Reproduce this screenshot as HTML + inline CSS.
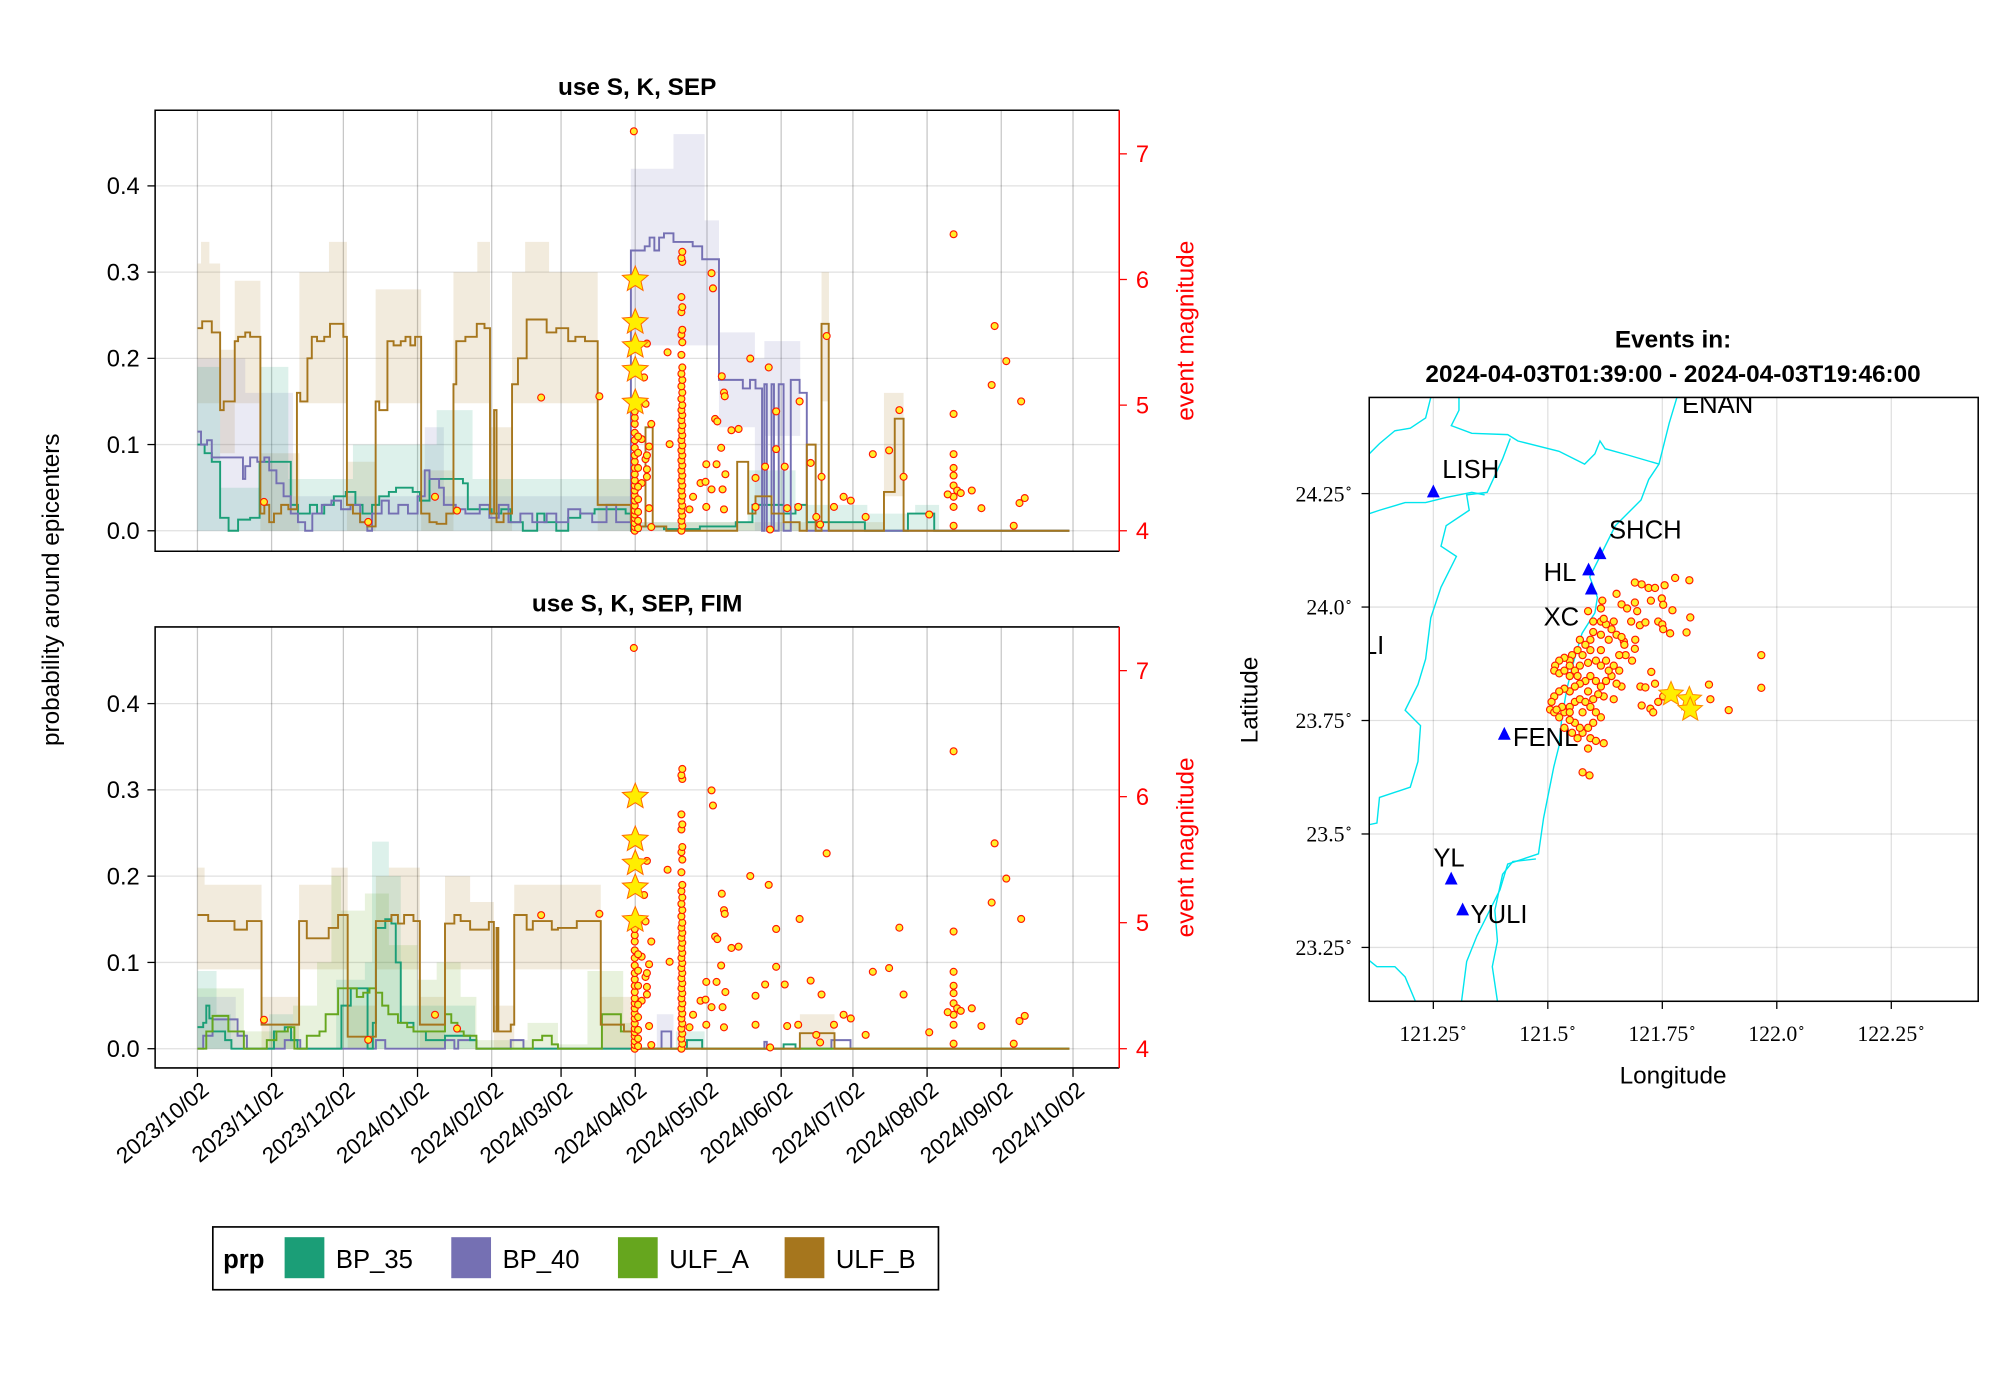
<!DOCTYPE html>
<html><head><meta charset="utf-8">
<style>
html,body{margin:0;padding:0;background:#fff;}
svg{display:block;font-family:"Liberation Sans",sans-serif;}
</style></head>
<body>
<svg id="fig" width="2000" height="1400" viewBox="0 0 1560 1092" xmlns="http://www.w3.org/2000/svg"></svg>
<script>
// ---------- DATA ----------
const monthTicks = ["2023/10/02","2023/11/02","2023/12/02","2024/01/02","2024/02/02","2024/03/02","2024/04/02","2024/05/02","2024/06/02","2024/07/02","2024/08/02","2024/09/02","2024/10/02"];
const monthDays = [0,31,61,92,123,152,183,213,244,274,305,336,366];
const yTicks = [0.0,0.1,0.2,0.3,0.4];
const magTicks = [4,5,6,7];

// top panel lines [day, value]
const topULFB = [[0,0.235],[2,0.243],[6,0.23],[9.5,0.14],[11,0.15],[15.6,0.22],[17,0.225],[20,0.23],[22,0.225],[26.3,0.02],[28,0.03],[30,0.01],[32,0.02],[35,0.03],[38,0.025],[41.6,0.16],[43,0.15],[46,0.2],[47.8,0.225],[50,0.22],[53,0.225],[55.4,0.24],[58,0.24],[61,0.225],[62.5,0.03],[65,0.02],[68,0.01],[71,0.005],[74.5,0.15],[76,0.14],[79.4,0.22],[82,0.215],[85,0.22],[87,0.225],[89,0.215],[91,0.225],[93.5,0.02],[97,0.01],[100,0.008],[104,0.02],[107,0.17],[108.2,0.22],[112,0.225],[116.8,0.24],[120,0.235],[122.3,0.02],[124,0.14],[125,0.01],[128,0.02],[131.5,0.17],[134,0.2],[137.6,0.245],[146,0.23],[150,0.235],[155,0.22],[158,0.225],[162,0.22],[167.3,0.03],[181.2,0.01],[185,0.005],[187.3,0.12],[190.3,0.005],[196,0.0],[225.6,0.08],[230.2,0.02],[233.3,0.04],[240,0.02],[245,0.01],[251.7,0.0],[254.7,0.1],[258.4,0.0],[260.9,0.24],[263.9,0.0],[287,0.045],[291.5,0.13],[295.2,0.0],[364.5,0.0]];
const topBP40 = [[0,0.115],[1.5,0.1],[4,0.105],[6,0.085],[17,0.085],[19,0.06],[20,0.075],[22,0.085],[25,0.08],[28,0.085],[30,0.07],[33,0.055],[36,0.04],[39,0.02],[42,0.01],[45,0.0],[48,0.02],[52,0.03],[56,0.035],[60,0.025],[64,0.03],[68,0.01],[71,0.0],[73,0.02],[77,0.035],[80,0.02],[84,0.03],[88,0.02],[92,0.04],[95,0.07],[97,0.06],[101,0.05],[103,0.03],[108,0.025],[112,0.02],[118,0.03],[122,0.015],[126,0.03],[130,0.01],[135,0.02],[140,0.01],[146,0.02],[150,0.01],[155,0.025],[160,0.02],[165,0.01],[171,0.03],[175,0.01],[181.2,0.325],[187,0.33],[189,0.34],[191,0.325],[193,0.34],[195,0.345],[199,0.335],[207,0.33],[211,0.315],[218,0.175],[224,0.175],[228,0.165],[231,0.175],[233.3,0.165],[236,0.0],[237,0.17],[238,0.0],[240,0.17],[241,0.0],[243,0.17],[245,0.0],[248,0.175],[251.7,0.16],[254.7,0.0],[364.5,0.0]];
const topBP35 = [[0,0.1],[3,0.09],[6,0.08],[9.5,0.015],[13,0.0],[17,0.013],[22,0.015],[26,0.08],[37,0.08],[39,0.03],[42,0.02],[47,0.03],[50,0.02],[53,0.03],[57,0.04],[62,0.045],[66,0.03],[69,0.02],[73,0.03],[76,0.04],[80,0.045],[83,0.05],[90,0.045],[93,0.035],[97,0.06],[111,0.055],[113,0.025],[123,0.02],[127,0.025],[131,0.01],[136,0.0],[142,0.02],[145,0.01],[150,0.0],[155,0.015],[160,0.02],[166,0.025],[179,0.02],[181.2,0.0],[185,0.005],[195,0.002],[210,0.005],[225,0.01],[232,0.03],[245,0.02],[250,0.03],[254.7,0.01],[279,0.0],[297,0.02],[308,0.0],[364.5,0.0]];
// top bands [day, lo, hi]
const topBandULFB = [[0,0.148,0.31],[1.5,0.148,0.335],[5,0.148,0.31],[9.5,0.09,0.21],[15.6,0.148,0.29],[26.3,0,0.09],[42.6,0.148,0.3],[55,0.148,0.335],[62.5,0,0.08],[74.5,0.148,0.28],[93.5,0,0.07],[107,0.148,0.3],[117,0.148,0.335],[122.3,0,0.12],[131.5,0.148,0.3],[137,0.148,0.335],[147,0.148,0.3],[167.3,0,0.06],[181.2,0,0.01],[260.9,0.15,0.3],[264,0,0.01],[287,0.04,0.16],[295.2,0,0],[364.5,0,0]];
const topBandBP40 = [[0,0,0.2],[20,0,0.16],[40,0,0.04],[95,0,0.12],[103,0,0.04],[181.2,0.215,0.42],[199,0.215,0.46],[212,0.215,0.36],[218,0.12,0.23],[233,0,0.2],[237,0.11,0.22],[252,0,0],[364.5,0,0]];
const topBandBP35 = [[0,0,0.19],[9.5,0,0.05],[26,0,0.19],[38,0,0.06],[65,0,0.1],[100,0,0.14],[115,0,0.06],[181,0,0.01],[230,0,0.07],[250,0,0.03],[280,0,0.02],[300,0,0.03],[310,0,0],[364.5,0,0]];

// bottom panel lines
const botULFB = [[0,0.155],[4.5,0.148],[15.5,0.138],[20.7,0.148],[26.8,0.028],[42.5,0.148],[45.7,0.128],[54.9,0.14],[58.8,0.155],[62.8,0.014],[74.6,0.148],[81.1,0.155],[83.8,0.145],[86.4,0.155],[90.3,0.148],[93,0.028],[103.5,0.145],[107.4,0.155],[110,0.148],[114,0.138],[121.8,0.147],[123.9,0.02],[125,0.14],[125.8,0.02],[131,0.028],[132.4,0.155],[137.6,0.138],[140.2,0.148],[148.1,0.138],[150.7,0.14],[158.6,0.148],[168.6,0.028],[178.3,0.02],[182.2,0.0],[251.8,0.018],[266.3,0.0],[364.5,0.0]];
const botULFA = [[0,0.0],[3.7,0.02],[6.3,0.038],[12.9,0.02],[19.4,0.0],[29,0.01],[33,0.02],[37.8,0.025],[40.5,0.0],[45.7,0.015],[51,0.02],[53.6,0.04],[56.2,0.04],[58.8,0.07],[66.6,0.06],[69.3,0.065],[71.9,0.07],[74.6,0.065],[77.2,0.05],[79.8,0.04],[83.8,0.03],[87.7,0.025],[90.3,0.02],[103.5,0.04],[106.1,0.03],[108.7,0.02],[111.3,0.015],[116.6,0.0],[140.2,0.01],[144.1,0.015],[148.1,0.005],[150.7,0.0],[169.1,0.04],[173,0.04],[177,0.02],[182.2,0.0],[364.5,0]];
const botBP35 = [[0,0.025],[2.4,0.03],[3.7,0.05],[5,0.035],[6.3,0.02],[11.6,0.01],[14.2,0.0],[32,0.02],[36.5,0.025],[39.1,0.01],[41.8,0.0],[60.2,0.05],[64.1,0.07],[71.1,0.0],[73.3,0.03],[74.6,0.14],[78.5,0.15],[81.1,0.145],[82.9,0.1],[85,0.03],[90.3,0.02],[95.5,0.01],[103.5,0.015],[114,0.01],[116.6,0.0],[204.6,0.01],[211,0.0],[245,0.005],[250,0.0],[364.5,0]];
const botBP40 = [[0,0],[2.4,0.015],[6.3,0.034],[16.8,0.015],[20.7,0.0],[36.5,0.01],[43,0.0],[74.6,0.01],[78.5,0.0],[103.5,0.01],[107.4,0.0],[109,0.01],[116.6,0.0],[131,0.01],[136.3,0.0],[194,0.02],[198,0.0],[237,0.008],[238,0],[265,0.01],[273,0.0],[364.5,0]];
const botBandULFB = [[0,0.092,0.21],[3,0.092,0.19],[26.8,0,0.06],[42.5,0.092,0.19],[56,0.092,0.21],[62.8,0,0.05],[74.6,0.092,0.2],[80,0.092,0.21],[93,0,0.06],[103.5,0.092,0.2],[114,0.092,0.17],[123.9,0,0.05],[132.4,0.092,0.19],[168.6,0,0.06],[182.2,0,0],[251.8,0,0.04],[266.3,0,0],[364.5,0,0]];
const botBandULFA = [[0,0,0.07],[19.4,0,0.02],[40,0,0.05],[50,0,0.1],[56,0,0.2],[60,0,0.16],[70,0,0.18],[80,0,0.12],[92,0,0.08],[100,0,0.1],[110,0,0.06],[116.6,0,0.01],[138,0,0.03],[150.7,0,0.005],[163,0,0.09],[178,0,0.03],[182.2,0,0],[364.5,0,0]];
const botBandBP35 = [[0,0,0.09],[8,0,0.04],[14,0,0],[30,0,0.04],[40,0,0],[58,0,0.08],[70,0,0.1],[73,0,0.24],[80,0,0.2],[85,0,0.05],[116,0,0],[200,0,0.02],[212,0,0],[364.5,0,0]];
const botBandBP40 = [[0,0,0.06],[16,0,0.02],[20,0,0],[192,0,0.04],[199,0,0],[364.5,0,0]];

// earthquake events (day, magnitude)
const evDay = [182.4,187.3,186.7,187.9,188.8,189.7,185.7,187.3,187.9,187.9,189.7,196.5,197.4,214.9,215.5,219.2,220.1,220.4,216.4,217.3,223.2,226.2,218.9,212.7,217.0,220.7,210.3,212.4,214.9,219.5,207.2,212.7,220.1,205.7,231.1,238.8,241.9,241.9,237.3,233.3,245.5,251.7,256.3,260.9,233.3,246.5,251.1,239.4,258.7,260.3,266.1,270.1,273.1,279.3,282.3,289.1,263.0,293.4,295.2,305.9,316.1,316.1,316.1,316.1,316.1,316.1,316.1,316.1,316.1,313.6,317.6,319.1,323.7,327.7,332.0,333.2,338.1,344.3,341.2,343.6,345.8,143.7,168.0,99.3,108.5,71.4,27.8,185.7,188.8,187.9];
const evMag = [7.18,5.01,5.22,5.49,4.67,4.85,4.73,4.57,4.49,4.43,4.03,5.42,4.69,6.05,5.93,5.23,5.10,5.07,4.89,4.87,4.80,4.81,4.66,4.53,4.53,4.45,4.38,4.39,4.33,4.33,4.27,4.19,4.17,4.17,5.37,5.30,4.95,4.65,4.51,4.42,4.51,5.03,4.54,4.43,4.19,4.18,4.19,4.01,4.11,4.05,4.19,4.27,4.24,4.11,4.61,4.64,5.55,4.96,4.43,4.13,6.36,4.93,4.61,4.50,4.44,4.36,4.27,4.19,4.04,4.29,4.32,4.30,4.32,4.18,5.16,5.63,5.35,5.03,4.04,4.22,4.26,5.06,5.07,4.27,4.16,4.07,4.23,4.38,4.18,4.6];
const col1Mag = [4.0,4.03,4.06,4.1,4.13,4.16,4.2,4.24,4.28,4.32,4.36,4.4,4.45,4.5,4.55,4.6,4.66,4.72,4.78,4.85,4.9,4.95];
const col1bMag = [4.02,4.08,4.15,4.25,4.35,4.5,4.62,4.75];
const col2Mag = [4.0,4.04,4.08,4.12,4.16,4.2,4.24,4.28,4.32,4.36,4.4,4.44,4.48,4.52,4.56,4.6,4.64,4.68,4.72,4.76,4.8,4.84,4.88,4.92,4.96,5.0,5.05,5.1,5.15,5.2,5.25,5.3,5.4,5.5,5.56,5.6,5.74,5.78,5.86,6.14,6.17,6.22];
const starMag = [6.0,5.66,5.47,5.28,5.02];
const starDay = 183.0;

// map data
const mapLonTicks = [121.25,121.5,121.75,122.0,122.25];
const mapLonLabels = ["121.25","121.5","121.75","122.0","122.25"];
const mapLatTicks = [24.25,24.0,23.75,23.5,23.25];
const mapLatLabels = ["24.25","24.0","23.75","23.5","23.25"];
const stName = ["LISH","SHCH","HL","","FENL","YL","YULI"];
const stLon = [121.25,121.614,121.589,121.595,121.405,121.289,121.314];
const stLat = [24.253,24.117,24.081,24.039,23.719,23.400,23.332];
const qLon = [121.690,121.705,121.720,121.734,121.755,121.778,121.809,121.650,121.690,121.725,121.749,121.752,121.661,121.673,121.695,121.772,121.811,121.682,121.701,121.713,121.741,121.750,121.752,121.767,121.803,121.666,121.691,121.684,121.690,121.726,121.702,121.713,121.734,121.705,121.724,121.730,121.741,121.752,121.852,121.855,121.895,121.966,121.966,121.619,121.588,
121.616,121.627,121.639,121.650,121.661,121.633,121.616,121.599,121.593,121.582,121.570,121.565,121.553,121.548,121.536,121.525,121.516,121.514,121.525,121.536,121.548,121.559,121.570,121.588,121.605,121.616,121.627,121.644,121.656,121.639,121.627,121.616,121.605,121.593,121.582,121.570,121.559,121.548,121.536,121.525,121.514,121.508,121.505,121.514,121.525,121.536,121.548,121.559,121.570,121.582,121.593,121.605,121.616,121.599,121.588,121.576,121.593,121.605,121.622,121.588,121.570,121.559,121.548,121.536,121.553,121.565,121.576,121.591,121.622,121.644,121.661,121.650,121.633,121.667,121.670,121.656,121.593,121.576,121.548,121.565,121.588,121.610,121.599,121.576,121.548,121.531,121.519,121.616,121.622,121.599,121.644,121.616];
const qLat = [24.054,24.050,24.042,24.042,24.048,24.064,24.059,24.029,24.010,24.014,24.019,24.005,24.006,23.997,23.991,23.993,23.977,23.968,23.960,23.966,23.968,23.962,23.951,23.942,23.944,23.924,23.928,23.882,23.908,23.857,23.825,23.823,23.831,23.783,23.776,23.768,23.791,23.803,23.829,23.797,23.773,23.894,23.822,24.014,23.991,
23.968,23.962,23.951,23.939,23.934,23.928,23.939,23.945,23.928,23.917,23.928,23.905,23.894,23.882,23.888,23.882,23.871,23.860,23.854,23.860,23.848,23.860,23.871,23.877,23.882,23.871,23.882,23.871,23.860,23.848,23.837,23.825,23.837,23.848,23.837,23.831,23.825,23.814,23.820,23.814,23.803,23.791,23.774,23.768,23.757,23.768,23.780,23.791,23.797,23.791,23.780,23.768,23.757,23.745,23.734,23.723,23.711,23.705,23.700,23.688,23.734,23.745,23.751,23.734,23.723,23.711,23.636,23.629,23.803,23.797,23.825,23.831,23.860,23.917,23.894,23.894,23.905,23.894,23.871,23.848,23.814,23.808,23.797,23.768,23.768,23.780,23.774,23.997,23.974,23.968,23.968,23.905];
const qStarLon = [121.769,121.809,121.811];
const qStarLat = [23.808,23.797,23.774];

// ---------- HELPERS ----------
const NS = "http://www.w3.org/2000/svg";
const svg = document.getElementById("fig");
function mk(tag, attrs, parent){ const e=document.createElementNS(NS,tag); for(const k in attrs) e.setAttribute(k,attrs[k]); (parent||svg).appendChild(e); return e; }
function txt(s, attrs, parent){ const e=mk("text",attrs,parent); e.textContent=s; return e; }
const C = {bp35:"#1b9e77", bp40:"#7570b3", ulfa:"#66a61e", ulfb:"#a6761d"};
const DOT_FILL="#ffee2a", DOT_STROKE="#ff1a00";
const X = d => 154 + d*1.866;
function starPath(cx,cy,R){ let p=""; for(let i=0;i<10;i++){const r=i%2?R*0.45:R; const a=-Math.PI/2+i*Math.PI/5; p+=(i?"L":"M")+(cx+r*Math.cos(a)).toFixed(1)+","+(cy+r*Math.sin(a)).toFixed(1);} return p+"Z"; }
function stepLine(data, Y){ let p=""; data.forEach((d,i)=>{ const x=X(d[0]), y=Y(d[1]); if(i===0) p+="M"+x+","+y; else p+="H"+x.toFixed(1)+"V"+y.toFixed(1); }); return p; }
function stepBand(data, Y){ let up="", dn=[]; for(let i=0;i<data.length-1;i++){ const x0=X(data[i][0]), x1=X(data[i+1][0]); up+=(i?"L":"M")+x0.toFixed(1)+","+Y(data[i][2]).toFixed(1)+"L"+x1.toFixed(1)+","+Y(data[i][2]).toFixed(1); dn.unshift("L"+x1.toFixed(1)+","+Y(data[i][1]).toFixed(1)+"L"+x0.toFixed(1)+","+Y(data[i][1]).toFixed(1)); } return up+dn.join("")+"Z"; }

function panel(cfg){
  const g = mk("g",{});
  
  
  const Y = v => cfg.y0 - v*cfg.yk;
  const YR = m => cfg.y0 - (m-4)*cfg.mk;
  yTicks.forEach(t=>{ const l=mk("line",{x1:121,x2:873,y1:Y(t),y2:Y(t),stroke:"#000","stroke-opacity":0.12,"stroke-width":1},g);
      });
  monthDays.forEach(d=>{ const l=mk("line",{x1:X(d),x2:X(d),y1:cfg.top,y2:cfg.bot,stroke:"#000","stroke-opacity":0.22,"stroke-width":1},g);
      });
  cfg.bands.forEach(b=>{ const p=mk("path",{d:stepBand(b.data,Y),fill:b.c,"fill-opacity":0.15,stroke:"none"},g);
      });
  cfg.lines.forEach(b=>{ const p=mk("path",{d:stepLine(b.data,Y),fill:"none",stroke:b.c,"stroke-width":1.5},g);
      });
  const eg = mk("g",{fill:DOT_FILL,stroke:DOT_STROKE,"stroke-width":0.9},g);
   
  function dot(d,m){ const c=mk("circle",{cx:X(d).toFixed(1),cy:YR(m).toFixed(1),r:2.7},eg);
      }
  evDay.forEach((d,i)=>dot(d,evMag[i]));
  col1Mag.forEach(m=>dot(182.8,m));
  col1bMag.forEach(m=>dot(184.2,m));
  col2Mag.forEach((m,i)=>dot(202.3+(i%2)*0.4,m));
  starMag.forEach(m=>{ const s=mk("path",{d:starPath(X(starDay),YR(m),10.5),fill:"#ffee00",stroke:"#ff6a00","stroke-width":0.8},g);
      });
  const fr=mk("path",{d:`M873,${cfg.top}H121V${cfg.bot}H873`,fill:"none",stroke:"#000","stroke-width":1.2},g);
   
  const rs=mk("line",{x1:873,x2:873,y1:cfg.top,y2:cfg.bot,stroke:"#ff0000","stroke-width":1.2},g);
   
  yTicks.forEach(t=>{ mk("line",{x1:115,x2:121,y1:Y(t),y2:Y(t),stroke:"#000","stroke-width":1},g);
    const l=txt(t.toFixed(1),{x:109,y:Y(t)+6.5,"text-anchor":"end","font-size":18.5},g);
      });
  magTicks.forEach(t=>{ mk("line",{x1:873,x2:879,y1:YR(t),y2:YR(t),stroke:"#ff0000","stroke-width":1},g);
    const l=txt(String(t),{x:886,y:YR(t)+6.5,"font-size":18.5,fill:"#ff0000"},g);
      });
  const t=txt(cfg.title,{x:497,y:cfg.top-12,"text-anchor":"middle","font-size":19,"font-weight":"bold"},g);
   
  const rl=txt("event magnitude",{x:0,y:0,"text-anchor":"middle","font-size":19,fill:"#ff0000",transform:`translate(931,${(cfg.top+cfg.bot)/2}) rotate(-90)`},g);
   
  return g;
}

panel({name:"top-panel",title:"use S, K, SEP",top:86,bot:430,y0:414,yk:672.5,mk:98,
  bands:[{n:"ulf-b",c:C.ulfb,data:topBandULFB},{n:"bp-40",c:C.bp40,data:topBandBP40},{n:"bp-35",c:C.bp35,data:topBandBP35}],
  lines:[{n:"bp-35",c:C.bp35,data:topBP35},{n:"bp-40",c:C.bp40,data:topBP40},{n:"ulf-b",c:C.ulfb,data:topULFB}]});
panel({name:"bottom-panel",title:"use S, K, SEP, FIM",top:489,bot:833,y0:818,yk:673,mk:98.3,
  bands:[{n:"ulf-b",c:C.ulfb,data:botBandULFB},{n:"ulf-a",c:C.ulfa,data:botBandULFA},{n:"bp-35",c:C.bp35,data:botBandBP35},{n:"bp-40",c:C.bp40,data:botBandBP40}],
  lines:[{n:"bp-40",c:C.bp40,data:botBP40},{n:"bp-35",c:C.bp35,data:botBP35},{n:"ulf-a",c:C.ulfa,data:botULFA},{n:"ulf-b",c:C.ulfb,data:botULFB}]});

monthDays.forEach((d,i)=>{
  mk("line",{x1:X(d),x2:X(d),y1:833,y2:840,stroke:"#000","stroke-width":1});
  const l=txt(monthTicks[i],{x:0,y:0,"text-anchor":"end","font-size":17.5,transform:`translate(${X(d)+10},${852}) rotate(-40)`});
   
});
const yl=txt("probability around epicenters",{x:0,y:0,"text-anchor":"middle","font-size":19,transform:"translate(46,460) rotate(-90)"});
 

// legend
const lg=mk("g",{});
 
mk("rect",{x:166,y:957,width:566,height:49,fill:"#fff",stroke:"#000","stroke-width":1.3},lg);
txt("prp",{x:174,y:989,"font-size":20,"font-weight":"bold"},lg);
[["BP_35",C.bp35,222],["BP_40",C.bp40,352],["ULF_A",C.ulfa,482],["ULF_B",C.ulfb,612]].forEach(e=>{
  const it=mk("g",{},lg);
   
  mk("rect",{x:e[2],y:965,width:31,height:32,fill:e[1]},it);
  txt(e[0],{x:e[2]+40,y:989,"font-size":20},it);
});

// ---------- MAP ----------
const mg=mk("g",{});
 
const MX = lon => 1118 + (lon-121.25)*357.2;
const MY = lat => 385 - (lat-24.25)*354;
const cp=mk("clipPath",{id:"mc"},mg);
mk("rect",{x:1068,y:310,width:475,height:471},cp);
const inner=mk("g",{"clip-path":"url(#mc)"},mg);
mapLonTicks.forEach(v=>{ mk("line",{x1:MX(v),x2:MX(v),y1:310,y2:781,stroke:"#000","stroke-opacity":0.12},inner); });
mapLatTicks.forEach(v=>{ mk("line",{x1:1068,x2:1543,y1:MY(v),y2:MY(v),stroke:"#000","stroke-opacity":0.12},inner); });
const coast=["M1308,310L1302,330L1294,362L1286,374L1280,390L1272,398L1260,410L1252,426L1246,438L1240,450L1246,466L1244,478L1234,494L1228,514L1222,538L1218,562L1216,582L1212,598L1208,618L1204,638L1200,666L1176,674L1170,694L1160,714L1152,730L1144,750L1140,781",
"M1064,358L1076,346L1088,336L1100,334L1112,326L1116,310",
"M1138,310L1138,320L1132,332L1148,338L1176,339L1184,344L1216,352L1236,362L1244,354L1248,344L1252,350L1270,355L1294,362",
"M1178,342L1172,358L1160,384L1144,386L1146,398L1128,410L1124,426L1136,434L1124,458L1116,482L1112,514L1106,534L1096,554L1108,566L1106,594L1100,614L1076,622L1074,642L1064,644",
"M1064,402L1076,398L1096,392L1112,392L1128,388L1148,384L1158,386",
"M1064,746L1074,754L1088,754L1096,762L1104,781",
"M1198,670L1180,672L1172,682L1166,710L1168,734L1164,754L1168,781"];
coast.forEach(d=>{ const p=mk("path",{d:d,fill:"none",stroke:"#00e5ee","stroke-width":1.1},inner);
    });
txt("ENAN",{x:1312,y:322,"font-size":20},inner);
txt("LI",{x:1063,y:510,"font-size":20},inner);
txt("CS",{x:1113,y:795,"font-size":20},inner);
stLon.forEach((lon,i)=>{ const x=MX(lon), y=MY(stLat[i]);
  const s=mk("path",{d:`M${x},${y-6}L${x+5},${y+4}L${x-5},${y+4}Z`,fill:"#0000ff"},inner);
    });
[["LISH",1125,373],["SHCH",1255,420],["HL",1204,453],["XC",1204,488],["FENL",1180,582],["YL",1118,676],["YULI",1147,720]].forEach(l=>{
  const t=txt(l[0],{x:l[1],y:l[2],"font-size":20},inner);
    });
qLon.forEach((lon,i)=>{ const c=mk("circle",{cx:MX(lon).toFixed(1),cy:MY(qLat[i]).toFixed(1),r:2.8,fill:DOT_FILL,stroke:DOT_STROKE,"stroke-width":0.9},inner);
    });
qStarLon.forEach((lon,i)=>{ const s=mk("path",{d:starPath(MX(lon),MY(qStarLat[i]),10),fill:"#ffee00",stroke:"#ff8a00","stroke-width":0.8},inner);
    });
mk("rect",{x:1068,y:310,width:475,height:471,fill:"none",stroke:"#000","stroke-width":1.2},mg);
mapLonTicks.forEach((v,i)=>{ mk("line",{x1:MX(v),x2:MX(v),y1:781,y2:787,stroke:"#000"},mg);
  const t=txt(mapLonLabels[i],{x:MX(v),y:812,"text-anchor":"middle","font-size":17,"font-family":"Liberation Serif, serif"},mg);
  const sp=document.createElementNS(NS,"tspan"); sp.setAttribute("dy",-7); sp.setAttribute("font-size",10); sp.textContent="∘"; t.appendChild(sp);
    });
mapLatTicks.forEach((v,i)=>{ mk("line",{x1:1062,x2:1068,y1:MY(v),y2:MY(v),stroke:"#000"},mg);
  const t=txt(mapLatLabels[i],{x:1055,y:MY(v)+6,"text-anchor":"end","font-size":17,"font-family":"Liberation Serif, serif"},mg);
  const sp=document.createElementNS(NS,"tspan"); sp.setAttribute("dy",-7); sp.setAttribute("font-size",10); sp.textContent="∘"; t.appendChild(sp);
    });
const mt1=txt("Events in:",{x:1305,y:271,"text-anchor":"middle","font-size":19,"font-weight":"bold"},mg);
 
const mt2=txt("2024-04-03T01:39:00 - 2024-04-03T19:46:00",{x:1305,y:298,"text-anchor":"middle","font-size":19,"font-weight":"bold"},mg);
 
const lx=txt("Longitude",{x:1305,y:845,"text-anchor":"middle","font-size":19},mg);
 
const ly=txt("Latitude",{x:0,y:0,"text-anchor":"middle","font-size":19,transform:"translate(981,546) rotate(-90)"},mg);
 
</script>
</body></html>
